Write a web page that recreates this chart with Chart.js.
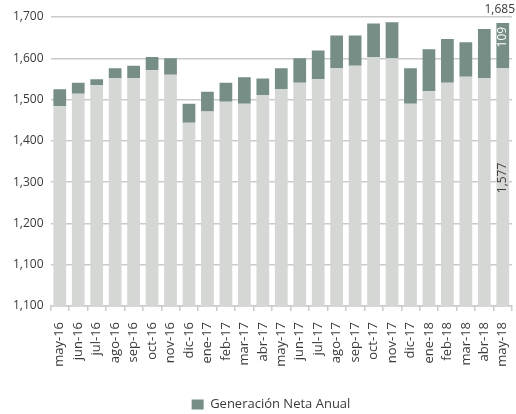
<!DOCTYPE html>
<html>
<head>
<meta charset="utf-8">
<script src="https://cdn.jsdelivr.net/npm/chart.js@4/dist/chart.umd.min.js"></script>
<style>
  html, body { margin: 0; padding: 0; background: #ffffff; }
  #wrap { width: 516px; height: 414px; position: relative; }
</style>
</head>
<body>
<div id="wrap"><canvas id="c" width="516" height="414"></canvas></div>
<script>
// Months shown on the category axis
const months = ['may-16','jun-16','jul-16','ago-16','sep-16','oct-16','nov-16','dic-16',
  'ene-17','feb-17','mar-17','abr-17','may-17','jun-17','jul-17','ago-17','sep-17',
  'oct-17','nov-17','dic-17','ene-18','feb-18','mar-18','abr-18','may-18'];

// Lower (light) segment of each bar
const baseValues = [1484,1514,1535,1552,1552,1571,1560,1444,1471,1495,1490,1511,1525,
  1541,1549,1576,1582,1603,1600,1490,1520,1541,1555,1552,1576.6];

// Upper (dark) segment: Generación Neta Anual
const annualValues = [41,27,14,24,30,32,40,46,48,46,64,40,51,59,70,79,73,81,87,86,
  102,106,84,119,108.6];

// Value axis tick labels, bottom to top
const yTickLabels = ['1,100','1,100','1,200','1,300','1,400','1,500','1,600','1,700'];

const FONT = '"Open Sans"';
const TEXT = '#3a3a3a';
const LIGHT = '#d5d7d4';
const DARK = '#768e86';
const GRID = '#cacaca';

const fmt = v => Math.round(v).toLocaleString('en-US');

// Value labels for the latest month
const lastLabels = {
  id: 'lastLabels',
  afterDatasetsDraw(chart) {
    const ctx = chart.ctx;
    const i = months.length - 1;
    const baseBar = chart.getDatasetMeta(0).data[i];
    const topBar = chart.getDatasetMeta(1).data[i];
    ctx.save();
    ctx.font = '12px ' + FONT;
    // total above the bar
    ctx.fillStyle = TEXT;
    ctx.textAlign = 'center';
    ctx.textBaseline = 'bottom';
    ctx.fillText(fmt(baseValues[i] + annualValues[i]), topBar.x - 3, topBar.y - 8);
    // rotated segment values
    ctx.textAlign = 'center';
    ctx.textBaseline = 'middle';
    ctx.save();
    ctx.translate(topBar.x, topBar.y + 14);
    ctx.rotate(-Math.PI / 2);
    ctx.fillStyle = '#ffffff';
    ctx.fillText(fmt(annualValues[i]), 0, 0);
    ctx.restore();
    ctx.save();
    ctx.translate(baseBar.x, baseBar.y + 110);
    ctx.rotate(-Math.PI / 2);
    ctx.fillStyle = TEXT;
    ctx.fillText(fmt(baseValues[i]), 0, 0);
    ctx.restore();
    ctx.restore();
  }
};

// Center the legend under the plot area rather than the whole canvas
const legendUnderPlot = {
  id: 'legendUnderPlot',
  afterLayout(chart) {
    if (chart.legend) {
      chart.legend.left += 12;
      chart.legend.right += 12;
    }
  }
};

new Chart(document.getElementById('c'), {
  type: 'bar',
  data: {
    labels: months,
    datasets: [
      { label: 'base', data: baseValues, backgroundColor: LIGHT,
        barPercentage: 0.69, categoryPercentage: 1 },
      { label: 'Generación Neta Anual', data: annualValues, backgroundColor: DARK,
        barPercentage: 0.69, categoryPercentage: 1 }
    ]
  },
  options: {
    responsive: false,
    animation: false,
    layout: { padding: { top: 17, right: 4, left: 6, bottom: -7 } },
    plugins: {
      tooltip: { enabled: false },
      legend: {
        position: 'bottom',
        labels: {
          filter: item => item.datasetIndex === 1,
          boxWidth: 12, boxHeight: 10, color: TEXT,
          font: { family: FONT, size: 13 }, padding: 1
        }
      }
    },
    scales: {
      x: {
        stacked: true,
        afterFit: scale => {
          scale.height = 91;
          scale.paddingLeft = 0;
          scale.paddingRight = 0;
        },
        grid: { display: true, drawOnChartArea: false, drawTicks: true, tickLength: 5,
                color: GRID, lineWidth: 1.5 },
        border: { display: true, color: GRID, width: 1.5 },
        ticks: { color: TEXT, font: { family: FONT, size: 13 }, maxRotation: 90,
                 minRotation: 90, autoSkip: false, padding: 11 }
      },
      y: {
        stacked: true,
        min: 1000, max: 1700,
        grid: { color: GRID, lineWidth: 1.5, drawTicks: false },
        border: { display: false },
        ticks: {
          stepSize: 100, color: TEXT, font: { family: FONT, size: 12 }, padding: 7,
          callback: (v, idx) => yTickLabels[idx]
        }
      }
    }
  },
  plugins: [lastLabels, legendUnderPlot]
});
</script>
</body>
</html>
